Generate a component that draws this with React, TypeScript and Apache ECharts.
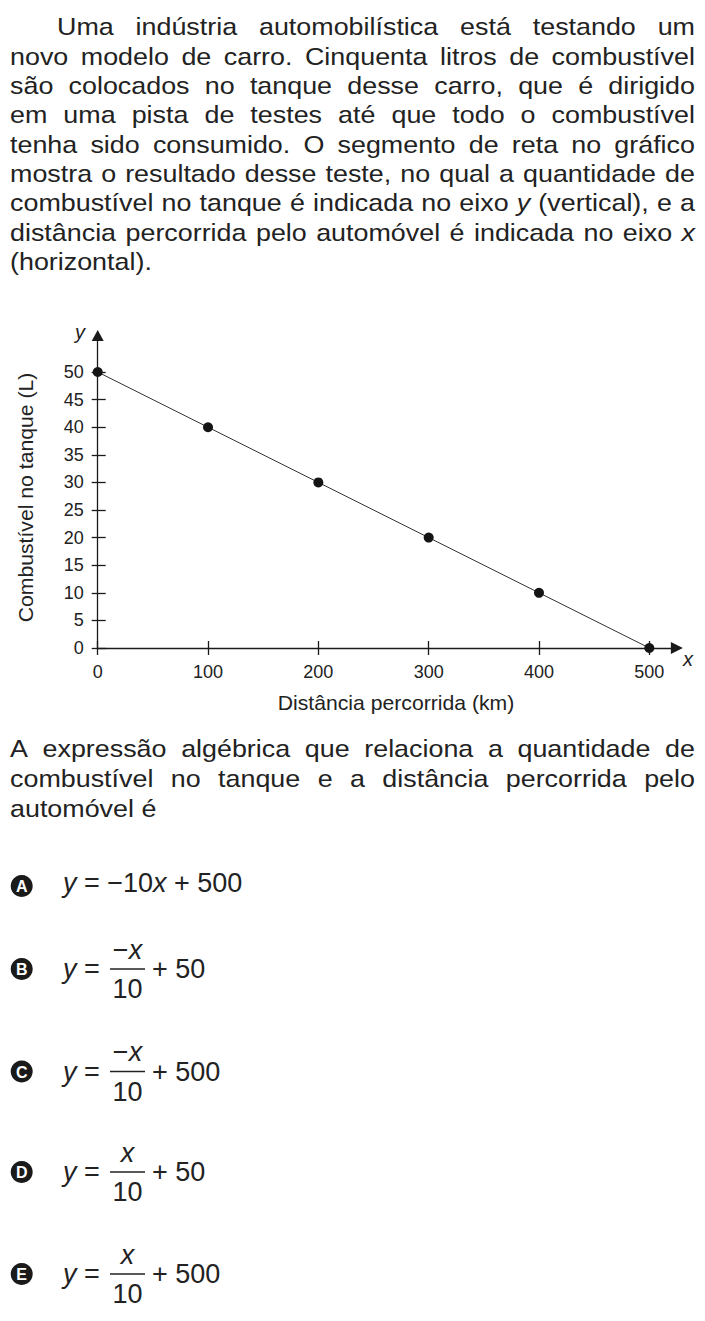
import { useEffect, useRef } from "react";
import * as echarts from "echarts";

// chart data
const distanceKm = [0, 100, 200, 300, 400, 500];
const fuelLitres = [50, 40, 30, 20, 10, 0];
const xTickValues = [0, 100, 200, 300, 400, 500];
const yTickValues = [0, 5, 10, 15, 20, 25, 30, 35, 40, 45, 50];

// question text, one entry per printed line
const introLines = [
  "Uma indústria automobilística está testando um",
  "novo modelo de carro. Cinquenta litros de combustível",
  "são colocados no tanque desse carro, que é dirigido",
  "em uma pista de testes até que todo o combustível",
  "tenha sido consumido. O segmento de reta no gráfico",
  "mostra o resultado desse teste, no qual a quantidade de",
  "combustível no tanque é indicada no eixo y (vertical), e a",
  "distância percorrida pelo automóvel é indicada no eixo x",
  "(horizontal)."
];
const questionLines = [
  "A expressão algébrica que relaciona a quantidade de",
  "combustível no tanque e a distância percorrida pelo",
  "automóvel é"
];
const italicWords = ["x", "y"];

// answer choices
const optionLetters = ["A", "B", "C", "D", "E"];
const optionNumerators = ["", "−{i|x}", "−{i|x}", "{i|x}", "{i|x}"];
const optionDenominators = ["", "10", "10", "10", "10"];
const optionConstants = ["500", "50", "500", "50", "500"];

const FONT = '"Liberation Sans", Arial, Helvetica, sans-serif';
const INK = "#222222";
const TEXT_LEFT = 10;
const TEXT_RIGHT = 695;
const STRETCH = 1.12;
const BODY_SIZE = 24;

const measureCtx = document.createElement("canvas").getContext("2d") as CanvasRenderingContext2D;
const measure = (word: string, italic: boolean, size: number) => {
  measureCtx.font = `${italic ? "italic " : ""}${size}px ${FONT}`;
  return measureCtx.measureText(word).width;
};

function paragraph(lines: string[], firstCenterY: number, pitch: number, indent: number) {
  const elements: any[] = [];
  lines.forEach((line, li) => {
    const words = line.split(" ");
    const left = li === 0 ? TEXT_LEFT + indent : TEXT_LEFT;
    const italics = words.map((w) => italicWords.includes(w));
    const widths = words.map((w, i) => measure(w, italics[i], BODY_SIZE) * STRETCH);
    const total = widths.reduce((a, b) => a + b, 0);
    const isLast = li === lines.length - 1;
    const gap = isLast || words.length < 2
      ? measure(" ", false, BODY_SIZE) * STRETCH
      : (TEXT_RIGHT - left - total) / (words.length - 1);
    let x = left;
    const y = firstCenterY + li * pitch;
    words.forEach((word, i) => {
      elements.push({
        type: "text",
        x,
        y,
        scaleX: STRETCH,
        style: {
          text: word,
          fill: INK,
          fontSize: BODY_SIZE,
          fontFamily: FONT,
          fontStyle: italics[i] ? "italic" : "normal",
          align: "left",
          verticalAlign: "middle"
        }
      });
      x += widths[i] + gap;
    });
  });
  return elements;
}

const FORMULA_SIZE = 27;
const italicRich = {
  i: { fontStyle: "italic", fontSize: FORMULA_SIZE, fontFamily: FONT, fill: INK }
};
const formulaStyle = (text: string, align: string) => ({
  text,
  rich: italicRich,
  fill: INK,
  fontSize: FORMULA_SIZE,
  fontFamily: FONT,
  align,
  verticalAlign: "middle"
});

const optionRowY = [886, 969, 1071.5, 1172, 1274];

function choices() {
  const elements: any[] = [];
  optionLetters.forEach((letter, i) => {
    const cy = optionRowY[i];
    elements.push(
      { type: "circle", shape: { cx: 21.7, cy, r: 11 }, style: { fill: "#1a1a1a" } },
      {
        type: "text",
        x: 21.7,
        y: cy + 0.5,
        style: {
          text: letter,
          fill: "#ffffff",
          fontSize: 16,
          fontWeight: "bold",
          fontFamily: FONT,
          align: "center",
          verticalAlign: "middle"
        }
      }
    );
    if (optionNumerators[i] === "") {
      elements.push({
        type: "text",
        x: 63,
        y: cy - 3,
        style: formulaStyle(`{i|y} = −10{i|x} + ${optionConstants[i]}`, "left")
      });
      return;
    }
    elements.push(
      { type: "text", x: 63, y: cy, style: formulaStyle("{i|y} =", "left") },
      { type: "text", x: 127.5, y: cy - 19.5, style: formulaStyle(optionNumerators[i], "center") },
      {
        type: "line",
        shape: { x1: 110, y1: cy, x2: 145, y2: cy },
        style: { stroke: INK, lineWidth: 1.5 }
      },
      { type: "text", x: 127.5, y: cy + 20, style: formulaStyle(optionDenominators[i], "center") },
      { type: "text", x: 152, y: cy, style: formulaStyle(`+ ${optionConstants[i]}`, "left") }
    );
  });
  return elements;
}

const axisLine = { color: "#1a1a1a", width: 1.3 };
const tickLabel = { color: INK, fontSize: 18, fontFamily: FONT };

function buildOption() {
  const labelText = (text: string, x: number, y: number, extra: any = {}) => ({
    type: "text",
    x,
    y,
    ...extra,
    style: {
      text,
      fill: INK,
      fontSize: 20,
      fontFamily: FONT,
      align: "center",
      verticalAlign: "middle",
      ...(extra.style || {})
    }
  });

  return {
    animation: false,
    backgroundColor: "#ffffff",
    grid: { left: 97.7, top: 335.6, width: 579.2, height: 312.4, outerBoundsMode: "none", containLabel: false },
    xAxis: [
      {
        type: "value",
        min: 0,
        max: 525,
        position: "bottom",
        axisLine: { show: true, symbol: ["none", "triangle"], symbolSize: [12, 12], lineStyle: axisLine },
        axisTick: { show: true, inside: false, length: 7, customValues: xTickValues, lineStyle: axisLine },
        axisLabel: { show: true, margin: 15, customValues: xTickValues, ...tickLabel },
        splitLine: { show: false }
      },
      {
        type: "value",
        min: 0,
        max: 525,
        position: "bottom",
        axisLine: { show: false },
        axisTick: { show: true, inside: true, length: 7, customValues: xTickValues, lineStyle: axisLine },
        axisLabel: { show: false },
        splitLine: { show: false }
      }
    ],
    yAxis: [
      {
        type: "value",
        min: 0,
        max: 56.6,
        position: "left",
        axisLine: { show: true, symbol: ["none", "triangle"], symbolSize: [12, 11], lineStyle: axisLine },
        axisTick: { show: true, inside: false, length: 6, customValues: yTickValues, lineStyle: axisLine },
        axisLabel: { show: true, margin: 14, customValues: yTickValues, ...tickLabel },
        splitLine: { show: false }
      },
      {
        type: "value",
        min: 0,
        max: 56.6,
        position: "left",
        axisLine: { show: false },
        axisTick: { show: true, inside: true, length: 8, customValues: yTickValues, lineStyle: axisLine },
        axisLabel: { show: false },
        splitLine: { show: false }
      }
    ],
    series: [
      {
        type: "line",
        xAxisIndex: 0,
        yAxisIndex: 0,
        data: distanceKm.map((d, i) => [d, fuelLitres[i]]),
        symbol: "circle",
        symbolSize: 10,
        showSymbol: true,
        clip: false,
        z: 5,
        lineStyle: { color: "#333333", width: 1 },
        itemStyle: { color: "#141414" },
        emphasis: { disabled: true }
      }
    ],
    graphic: [
      ...paragraph(introLines, 26.7, 29.375, 47),
      ...paragraph(questionLines, 748.4, 30, 0),
      labelText("y", 80, 332, { style: { fontStyle: "italic" } }),
      labelText("x", 688, 659, { style: { fontStyle: "italic" } }),
      labelText("Distância percorrida (km)", 396, 703, { scaleX: 1.06 }),
      labelText("Combustível no tanque (L)", 26, 497.5, { rotation: Math.PI / 2, scaleX: 1.06 }),
      ...choices()
    ]
  };
}

export default function App() {
  const hostRef = useRef<HTMLDivElement>(null);

  useEffect(() => {
    const host = hostRef.current;
    if (host === null) return;
    const chart = echarts.init(host, undefined, { renderer: "svg" });
    chart.setOption(buildOption() as any);
    return () => chart.dispose();
  }, []);

  return (
    <div
      ref={hostRef}
      style={{ position: "absolute", left: 0, top: 0, width: 705, height: 1321, background: "#fff" }}
    />
  );
}
